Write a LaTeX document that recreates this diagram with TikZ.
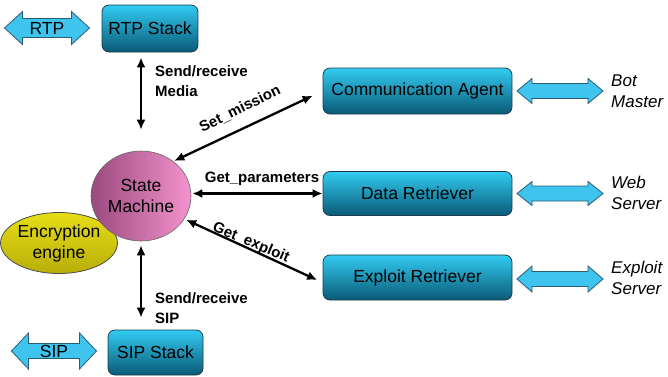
\documentclass[tikz,border=0pt]{standalone}
\usepackage{fontspec}
\setmainfont{Liberation Sans}
\usetikzlibrary{shapes.geometric,arrows.meta}
\definecolor{cyantop}{HTML}{32CBF2}
\definecolor{cyanbot}{HTML}{0A5A76}
\definecolor{boxedge}{HTML}{1E3C4C}
\definecolor{arrowfill}{HTML}{3EC4EE}
\definecolor{arrowedge}{HTML}{2A5C72}
\definecolor{smleft}{HTML}{9A4A7E}
\definecolor{smright}{HTML}{F592CE}
\definecolor{encfill}{HTML}{E6DE16}
\definecolor{encdark}{HTML}{B8AE0A}
\newcommand\dblblock[6]{%
  \draw[blockarrow] (#1-#3,#2) -- (#1-#3+#6,#2-#4) -- (#1-#3+#6,#2-#5) -- (#1+#3-#6,#2-#5)
    -- (#1+#3-#6,#2-#4) -- (#1+#3,#2) -- (#1+#3-#6,#2+#4) -- (#1+#3-#6,#2+#5)
    -- (#1-#3+#6,#2+#5) -- (#1-#3+#6,#2+#4) -- cycle;}
\begin{document}
\begin{tikzpicture}[x=1pt,y=-1pt,
  stackbox/.style={draw=boxedge, line width=0.8pt, rounded corners=7pt,
    top color=cyantop, bottom color=cyanbot, inner sep=0pt,
    font=\fontsize{17.5}{21}\selectfont},
  blockarrow/.style={draw=arrowedge, line width=0.8pt, fill=arrowfill, line join=miter},
  conn/.style={line width=2.3pt, {Latex[length=10pt,width=9pt]}-{Latex[length=10pt,width=9pt]}},
  boldlab/.style={font=\bfseries\fontsize{15}{20}\selectfont, inner sep=0pt, align=left},
  itlab/.style={font=\itshape\fontsize{17}{21}\selectfont, inner sep=0pt, align=left, anchor=west}]
\useasboundingbox (0,0) rectangle (668,376);
\fill[white] (0,0) rectangle (668,376);

% block arrows
\dblblock{47}{28}{42.5}{16.5}{9.5}{18}
\dblblock{54}{351}{42.5}{18}{7.5}{17}
\dblblock{560}{91}{43}{12.5}{7.5}{15}
\dblblock{560}{193.5}{43}{12}{7.5}{15}
\dblblock{560}{279}{43}{13}{7.5}{15}
\node[font=\fontsize{17.5}{21}\selectfont] (rtplab) at (47,28) {RTP};
\node[font=\fontsize{17.5}{21}\selectfont] (siplab) at (54,351) {SIP};

% boxes
\node[stackbox, minimum width=96pt, minimum height=47pt] (rtp) at (150,28.5) {RTP Stack};
\node[stackbox, minimum width=95pt, minimum height=45pt] (sip) at (155.5,352.5) {SIP Stack};
\node[stackbox, minimum width=189pt, minimum height=46pt] (comm) at (417.5,91) {Communication Agent};
\node[stackbox, minimum width=189pt, minimum height=44pt] (data) at (417.5,193.5) {Data Retriever};
\node[stackbox, minimum width=189pt, minimum height=45pt] (expl) at (417.5,277.5) {Exploit Retriever};

% encryption engine
\node[ellipse, draw=black!70, line width=0.8pt, top color=encfill, bottom color=encdark,
  minimum width=108pt, minimum height=61pt, inner sep=0pt, align=center,
  font=\fontsize{17.5}{21}\selectfont] (enc) at (59,243) {Encryption\\engine};

% state machine
\node[ellipse, draw=black!60, line width=0.6pt, left color=smleft, right color=smright,
  minimum width=100pt, minimum height=90pt, inner sep=0pt, align=center,
  font=\fontsize{17.5}{21}\selectfont] (sm) at (141,196) {State\\Machine};

% right labels
\node[itlab] (bot) at (611,91) {Bot\\Master};
\node[itlab] (web) at (611,193) {Web\\Server};
\node[itlab] (exsrv) at (611,278) {Exploit\\Server};

% connectors
\draw[conn, shorten <=5pt, shorten >=21pt] (rtp.south -| sm.north) -- (sm.north);
\draw[conn, shorten <=4pt, shorten >=12pt] (sm.south) -- (sip.north -| sm.south);
\draw[conn, shorten <=1pt, shorten >=11pt] (sm.47) -- (comm.west);
\draw[conn, shorten <=1pt, shorten >=0pt] (sm.east |- data.west) -- (data.west);
\draw[conn, shorten <=2pt, shorten >=6pt] (sm.-28) -- ([yshift=-5pt]expl.west);

% connector labels
\node[boldlab, anchor=west] (medialab) at (155,81) {Send/receive\\Media};
\node[boldlab, anchor=west] (siplab2) at (155,308) {Send/receive\\SIP};
\node[boldlab] (paramlab) at (262,179) {Get\_parameters};
\node[boldlab, rotate=26] (missionlab) at (240,109) {Set\_mission};
\node[boldlab, rotate=-23] (exploitlab) at (251,243) {Get\_exploit};
\end{tikzpicture}
\end{document}
